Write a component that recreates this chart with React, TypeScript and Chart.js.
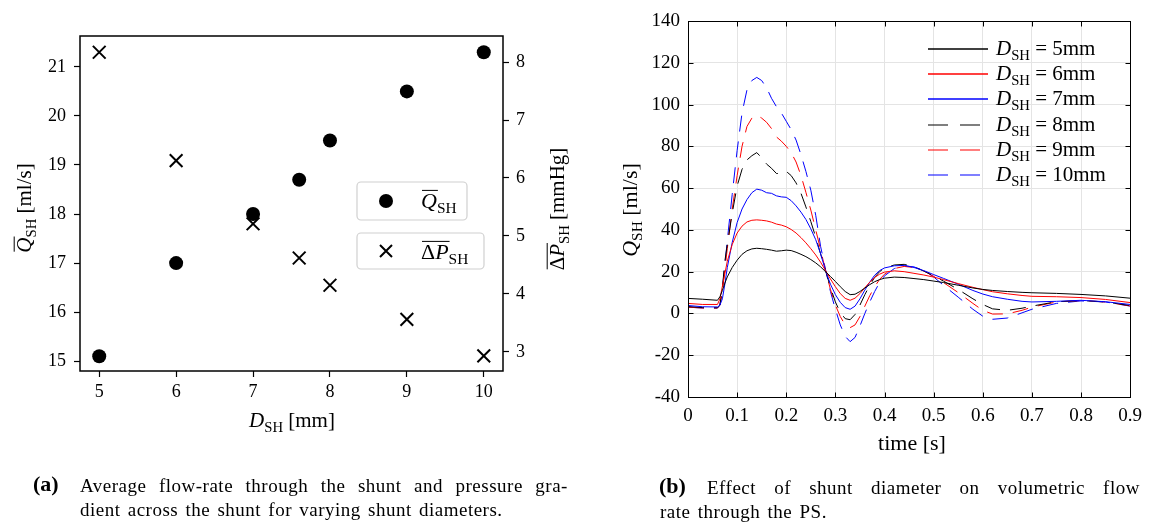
import React, { useEffect, useRef } from "react";
import { Chart, registerables } from "chart.js";

Chart.register(...registerables);

const FONT = '"Liberation Serif", "DejaVu Serif", serif';

// ---------- Panel (a) data ----------
const shuntDiameters = [5, 6, 7, 7.6, 8, 9, 10];
const meanFlow = [15.1, 17.0, 18.0, 18.7, 19.5, 20.5, 21.3];
const meanPressureDrop = [8.17, 6.3, 5.21, 4.62, 4.15, 3.56, 2.93];
const aXTicks = [5, 6, 7, 8, 9, 10];
const aYTicks = [15, 16, 17, 18, 19, 20, 21];
const aY2Ticks = [3, 4, 5, 6, 7, 8];

// ---------- Panel (b) data ----------
const time = [0, 0.03, 0.06, 0.065, 0.07, 0.075, 0.08, 0.09, 0.1, 0.11, 0.12, 0.13, 0.14, 0.15, 0.16, 0.17, 0.18, 0.19, 0.2, 0.21, 0.22, 0.23, 0.24, 0.25, 0.26, 0.27, 0.28, 0.29, 0.3, 0.31, 0.32, 0.33, 0.34, 0.35, 0.36, 0.37, 0.38, 0.39, 0.4, 0.42, 0.44, 0.46, 0.48, 0.5, 0.52, 0.55, 0.58, 0.6, 0.62, 0.65, 0.68, 0.7, 0.75, 0.8, 0.85, 0.9];
const q5mm = [7.2, 6.8, 6.3, 8, 11, 14.5, 17.5, 22, 25.5, 28.3, 30, 30.9, 31.2, 31, 30.7, 30.3, 29.8, 30, 30.3, 30.1, 29.3, 28.3, 27.2, 25.8, 24.2, 22.3, 20, 17.7, 15.3, 12.8, 10.5, 9, 9.2, 10.5, 12.2, 13.8, 15.2, 16.2, 16.9, 17.4, 17.2, 16.7, 16.2, 15.5, 14.8, 13.5, 12.2, 11.5, 11, 10.5, 10.1, 9.9, 9.6, 9.1, 8.4, 7.3];
const q6mm = [4.8, 4.3, 4.3, 7, 13, 19, 25, 33, 38.5, 41.8, 43.8, 44.6, 44.8, 44.6, 44.3, 43.7, 42.8, 42.3, 41.5, 40.2, 38.5, 36.3, 33.8, 31, 28, 24.5, 20.5, 16.5, 12.8, 9.5, 7.2, 6.3, 7.3, 9.5, 12.3, 15, 17.2, 18.8, 19.8, 20.4, 20, 19.2, 18.4, 17.4, 16.2, 14.3, 12.5, 11.4, 10.4, 9.4, 8.6, 8.2, 8, 7.6, 6.7, 5.2];
const q7mm = [3.8, 3.2, 3.1, 4, 7, 14, 22, 34, 43.5, 50, 54.5, 57.8, 59.5, 59, 57.8, 57.5, 56.3, 55.8, 55.6, 54, 51.5, 48.5, 45, 40.5, 35.3, 28.5, 20.5, 14, 9, 5.3, 2.8, 2, 3.5, 7, 11.2, 15, 18.3, 20.5, 21.8, 22.8, 23, 22, 20.5, 18.6, 16.8, 14, 11, 9.3, 8, 6.8, 5.8, 5.5, 5.8, 6.3, 5.6, 4.3];
const q8mm = [3.3, 2.8, 2.7, 4, 12, 25, 33, 48, 61, 69, 73.5, 75.5, 77, 74.5, 71.5, 69.5, 67, 67, 68, 66, 62.5, 57.5, 51, 44, 36.5, 28.5, 20.5, 12.5, 5.5, 0.5, -2.5, -3, -0.5, 4, 9, 13.5, 17.3, 20, 21.8, 23.2, 23.5, 22.3, 20.3, 18, 15.5, 11.5, 7, 4.3, 2.2, 1.5, 2.5, 3.5, 5.6, 6.2, 5.5, 3.8];
const q9mm = [3, 2.6, 2.6, 4, 11, 21, 31, 50, 66, 80, 89.5, 93.5, 95, 93.5, 91.5, 88.5, 84.5, 82.5, 80, 77, 72.5, 66, 58, 49.5, 40, 30.5, 20.5, 11.5, 4, -1.5, -5.5, -6.8, -5.5, -1.5, 3.5, 8.5, 12.8, 16.3, 18.8, 21.5, 22.5, 22, 20.3, 17.8, 14.8, 10, 4.8, 1.5, -0.3, -0.2, 1.5, 3, 5.5, 6.2, 5.5, 3.6];
const q10mm = [3, 2.6, 2.6, 4, 12, 23, 35, 57, 78, 96, 107, 111.5, 113, 111.5, 108, 103, 99, 96, 92, 88, 83, 76, 68, 59, 47, 32, 21, 10.5, 2, -5.5, -11, -13.5, -11.5, -6, 0, 5.5, 10.5, 14.8, 18, 21.5, 22.8, 22.3, 20.5, 17.5, 13.5, 7.8, 2, -1.3, -2.8, -2.2, 0.3, 2, 4.8, 6, 5.5, 3.5];
const diameterLabels = ["5mm", "6mm", "7mm", "8mm", "9mm", "10mm"];
const bXTicks = [0, 0.1, 0.2, 0.3, 0.4, 0.5, 0.6, 0.7, 0.8, 0.9];
const bYTicks = [-40, -20, 0, 20, 40, 60, 80, 100, 120, 140];

type Seg = { t: string; it?: boolean; sub?: boolean; ov?: boolean };

function segFont(s: Seg, size: number) {
  const sz = s.sub ? size * 0.7 : size;
  return `${s.it ? "italic " : ""}${sz}px ${FONT}`;
}
function mathWidth(ctx: CanvasRenderingContext2D, segs: Seg[], size: number) {
  let w = 0;
  for (const s of segs) {
    ctx.font = segFont(s, size);
    w += ctx.measureText(s.t).width;
  }
  return w;
}
function drawMath(ctx: CanvasRenderingContext2D, segs: Seg[], x: number, y: number, size: number, align: "left" | "center" = "left") {
  let cx = align === "center" ? x - mathWidth(ctx, segs, size) / 2 : x;
  ctx.save();
  ctx.fillStyle = "#000";
  ctx.strokeStyle = "#000";
  ctx.textAlign = "left";
  ctx.textBaseline = "alphabetic";
  let ovStart: number | null = null;
  for (const s of segs) {
    ctx.font = segFont(s, size);
    const w = ctx.measureText(s.t).width;
    ctx.fillText(s.t, cx, s.sub ? y + size * 0.22 : y);
    if (s.ov && ovStart === null) ovStart = cx;
    if (!s.ov && ovStart !== null) {
      ctx.lineWidth = 1;
      ctx.beginPath();
      ctx.moveTo(ovStart + 1, y - size * 0.8);
      ctx.lineTo(cx + 1, y - size * 0.8);
      ctx.stroke();
      ovStart = null;
    }
    cx += w;
  }
  if (ovStart !== null) {
    ctx.lineWidth = 1;
    ctx.beginPath();
    ctx.moveTo(ovStart + 1, y - size * 0.8);
    ctx.lineTo(cx + 1, y - size * 0.8);
    ctx.stroke();
  }
  ctx.restore();
}
function drawMathRotated(ctx: CanvasRenderingContext2D, segs: Seg[], bx: number, cy: number, size: number) {
  ctx.save();
  ctx.translate(bx, cy);
  ctx.rotate(-Math.PI / 2);
  drawMath(ctx, segs, 0, 0, size, "center");
  ctx.restore();
}

const fixedTicks = (vals: number[]) => (scale: any) => {
  scale.ticks = vals.map((v) => ({ value: v }));
};

function PanelA() {
  const ref = useRef<HTMLCanvasElement>(null);
  useEffect(() => {
    const canvas = ref.current!;
    const panelPlugin = {
      id: "panelA",
      afterDraw(chart: any) {
        const ctx = chart.ctx as CanvasRenderingContext2D;
        const a = chart.chartArea;
        ctx.save();
        ctx.strokeStyle = "#000";
        ctx.lineWidth = 1.5;
        ctx.strokeRect(a.left, a.top, a.right - a.left, a.bottom - a.top);
        // legend boxes
        const boxes = [
          { x: 357, y: 182, w: 110, h: 38 },
          { x: 357, y: 233, w: 127, h: 36 },
        ];
        for (const b of boxes) {
          ctx.beginPath();
          ctx.roundRect(b.x, b.y, b.w, b.h, 4);
          ctx.fillStyle = "rgba(255,255,255,0.8)";
          ctx.fill();
          ctx.strokeStyle = "#d0d0d0";
          ctx.lineWidth = 1.2;
          ctx.stroke();
        }
        ctx.fillStyle = "#000";
        ctx.beginPath();
        ctx.arc(386, 201, 7, 0, Math.PI * 2);
        ctx.fill();
        ctx.strokeStyle = "#000";
        ctx.lineWidth = 2;
        ctx.beginPath();
        ctx.moveTo(380, 245);
        ctx.lineTo(392, 257);
        ctx.moveTo(392, 245);
        ctx.lineTo(380, 257);
        ctx.stroke();
        ctx.restore();
        drawMath(ctx, [{ t: "Q", it: true, ov: true }, { t: "SH", sub: true }], 421, 208, 22);
        drawMath(ctx, [{ t: "Δ", ov: true }, { t: "P", it: true, ov: true }, { t: "SH", sub: true }], 421, 259, 22);
        // axis titles
        drawMathRotated(ctx, [{ t: "Q", it: true, ov: true }, { t: "SH", sub: true }, { t: " [ml/s]" }], 31, 208, 21);
        drawMathRotated(ctx, [{ t: "Δ", ov: true }, { t: "P", it: true, ov: true }, { t: "SH", sub: true }, { t: " [mmHg]" }], 564, 209, 21);
        drawMath(ctx, [{ t: "D", it: true }, { t: "SH", sub: true }, { t: " [mm]" }], 292, 427, 21, "center");
      },
    };
    const tickFont = { family: FONT, size: 18 };
    const chart = new Chart(canvas, {
      type: "scatter",
      data: {
        datasets: [
          {
            label: "Q",
            data: shuntDiameters.map((d, i) => ({ x: d, y: meanFlow[i] })),
            yAxisID: "y",
            pointStyle: "circle",
            pointRadius: 7,
            pointBackgroundColor: "#000",
            pointBorderWidth: 0,
          },
          {
            label: "dP",
            data: shuntDiameters.map((d, i) => ({ x: d, y: meanPressureDrop[i] })),
            yAxisID: "y2",
            pointStyle: "crossRot",
            pointRadius: 9,
            pointBorderColor: "#000",
            pointBorderWidth: 2,
          },
        ],
      },
      options: {
        responsive: false,
        animation: false,
        events: [],
        layout: { padding: { top: 36, left: 0, right: 0, bottom: 0 } },
        plugins: { legend: { display: false }, tooltip: { enabled: false } },
        scales: {
          x: {
            type: "linear",
            min: 4.75,
            max: 10.25,
            afterBuildTicks: fixedTicks(aXTicks),
            afterFit: (s: any) => { s.height = 89; },
            grid: { display: true, drawOnChartArea: false, drawTicks: true, tickLength: 6, tickColor: "#000", tickWidth: 1.2 },
            border: { display: false },
            ticks: { font: tickFont, color: "#000", padding: 4, maxRotation: 0 },
          },
          y: {
            type: "linear",
            position: "left",
            min: 14.8,
            max: 21.63,
            afterBuildTicks: fixedTicks(aYTicks),
            afterFit: (s: any) => { s.width = 80; },
            grid: { display: true, drawOnChartArea: false, drawTicks: true, tickLength: 6, tickColor: "#000", tickWidth: 1.2 },
            border: { display: false },
            ticks: { font: tickFont, color: "#000", padding: 8 },
          },
          y2: {
            type: "linear",
            position: "right",
            min: 2.67,
            max: 8.45,
            afterBuildTicks: fixedTicks(aY2Ticks),
            afterFit: (s: any) => { s.width = 72; },
            grid: { display: true, drawOnChartArea: false, drawTicks: true, tickLength: 6, tickColor: "#000", tickWidth: 1.2 },
            border: { display: false },
            ticks: { font: tickFont, color: "#000", padding: 7 },
          },
        },
      },
      plugins: [panelPlugin],
    } as any);
    return () => chart.destroy();
  }, []);
  return <canvas ref={ref} width={575} height={460} style={{ position: "absolute", left: 0, top: 0 }} />;
}

function PanelB() {
  const ref = useRef<HTMLCanvasElement>(null);
  useEffect(() => {
    const canvas = ref.current!;
    const series = [q5mm, q6mm, q7mm, q8mm, q9mm, q10mm];
    const colors = ["#000000", "#ff0000", "#0000ff", "#000000", "#ff0000", "#0000ff"];
    const dash = [16, 10];
    const panelPlugin = {
      id: "panelB",
      afterDraw(chart: any) {
        const ctx = chart.ctx as CanvasRenderingContext2D;
        const a = chart.chartArea;
        const xs = chart.scales.x;
        const ys = chart.scales.y;
        ctx.save();
        ctx.strokeStyle = "#000";
        ctx.lineWidth = 1;
        const L = Math.round(a.left) + 0.5, R = Math.round(a.right) + 0.5, T = Math.round(a.top) + 0.5, B = Math.round(a.bottom) + 0.5;
        ctx.strokeRect(L, T, R - L, B - T);
        ctx.beginPath();
        for (const v of bXTicks) {
          const px = Math.round(xs.getPixelForValue(v)) + 0.5;
          ctx.moveTo(px, B); ctx.lineTo(px, B - 5);
          ctx.moveTo(px, T); ctx.lineTo(px, T + 5);
        }
        for (const v of bYTicks) {
          const py = Math.round(ys.getPixelForValue(v)) + 0.5;
          ctx.moveTo(L, py); ctx.lineTo(L + 5, py);
          ctx.moveTo(R, py); ctx.lineTo(R - 5, py);
        }
        ctx.stroke();
        ctx.restore();
        // legend
        const rows = [49, 74, 99, 125, 150, 175];
        rows.forEach((ry, i) => {
          ctx.save();
          ctx.strokeStyle = colors[i];
          ctx.lineWidth = i >= 3 ? 1.2 : 1.6;
          ctx.setLineDash(i >= 3 ? [20, 12] : []);
          ctx.beginPath();
          ctx.moveTo(353, ry);
          ctx.lineTo(413, ry);
          ctx.stroke();
          ctx.restore();
          drawMath(ctx, [{ t: "D", it: true }, { t: "SH", sub: true }, { t: " = " + diameterLabels[i] }], 421, ry + 6, 21);
        });
        drawMathRotated(ctx, [{ t: "Q", it: true }, { t: "SH", sub: true }, { t: " [ml/s]" }], 62, 210, 22);
        ctx.save();
        ctx.fillStyle = "#000";
        ctx.font = `22px ${FONT}`;
        ctx.textAlign = "center";
        ctx.textBaseline = "alphabetic";
        ctx.fillText("time [s]", 337, 450);
        ctx.restore();
      },
    };
    const tickFont = { family: FONT, size: 19 };
    const chart = new Chart(canvas, {
      type: "line",
      data: {
        datasets: series.map((s, i) => ({
          label: diameterLabels[i],
          data: time.map((t, j) => ({ x: t, y: s[j] })),
          borderColor: colors[i],
          borderWidth: 1,
          borderDash: i >= 3 ? dash : [],
          pointRadius: 0,
          tension: 0,
          fill: false,
        })),
      },
      options: {
        responsive: false,
        animation: false,
        events: [],
        layout: { padding: { top: 21, left: 0, right: 17, bottom: 0 } },
        plugins: { legend: { display: false }, tooltip: { enabled: false } },
        scales: {
          x: {
            type: "linear",
            min: 0,
            max: 0.9,
            afterBuildTicks: fixedTicks(bXTicks),
            afterFit: (s: any) => { s.height = 63; },
            grid: { color: "#e4e4e4", lineWidth: 1, drawTicks: false },
            border: { display: false },
            ticks: {
              font: tickFont,
              color: "#000",
              padding: 8,
              maxRotation: 0,
              callback: (v: any) => (v === 0 ? "0" : Number(v).toFixed(1)),
            },
          },
          y: {
            type: "linear",
            min: -40,
            max: 140,
            afterBuildTicks: fixedTicks(bYTicks),
            afterFit: (s: any) => { s.width = 113; },
            grid: { color: "#e4e4e4", lineWidth: 1, drawTicks: false },
            border: { display: false },
            ticks: { font: tickFont, color: "#000", padding: 8, callback: (v: any) => String(v) },
          },
        },
      },
      plugins: [panelPlugin],
    } as any);
    return () => chart.destroy();
  }, []);
  return <canvas ref={ref} width={575} height={460} style={{ position: "absolute", left: 575, top: 0 }} />;
}

function Justified({ words, left, top, width }: { words: string[]; left: number; top: number; width: number }) {
  return (
    <div style={{ position: "absolute", left, top, width, display: "flex", justifyContent: "space-between", whiteSpace: "nowrap" }}>
      {words.map((w, i) => (
        <span key={i}>{w}</span>
      ))}
    </div>
  );
}

export default function App() {
  const capStyle: React.CSSProperties = { fontFamily: FONT, fontSize: 19, color: "#000", lineHeight: "22px", letterSpacing: "0.5px", wordSpacing: "2px" };
  return (
    <div style={{ position: "absolute", left: 0, top: 0, width: 1150, height: 522, background: "#fff", overflow: "hidden" }}>
      <PanelA />
      <PanelB />
      <div style={{ ...capStyle, position: "absolute", left: 0, top: 0, width: 1150, height: 522 }}>
        <span style={{ position: "absolute", left: 33, top: 473, fontWeight: "bold", fontSize: 22, letterSpacing: "0px" }}>(a)</span>
        <Justified words={"Average flow-rate through the shunt and pressure gra-".split(" ")} left={80} top={475} width={488} />
        <span style={{ position: "absolute", left: 80, top: 499, whiteSpace: "nowrap" }}>dient across the shunt for varying shunt diameters.</span>
        <span style={{ position: "absolute", left: 659, top: 475, fontWeight: "bold", fontSize: 22, letterSpacing: "0px" }}>(b)</span>
        <Justified words={"Effect of shunt diameter on volumetric flow".split(" ")} left={707} top={477} width={433} />
        <span style={{ position: "absolute", left: 660, top: 501, whiteSpace: "nowrap" }}>rate through the PS.</span>
      </div>
    </div>
  );
}
